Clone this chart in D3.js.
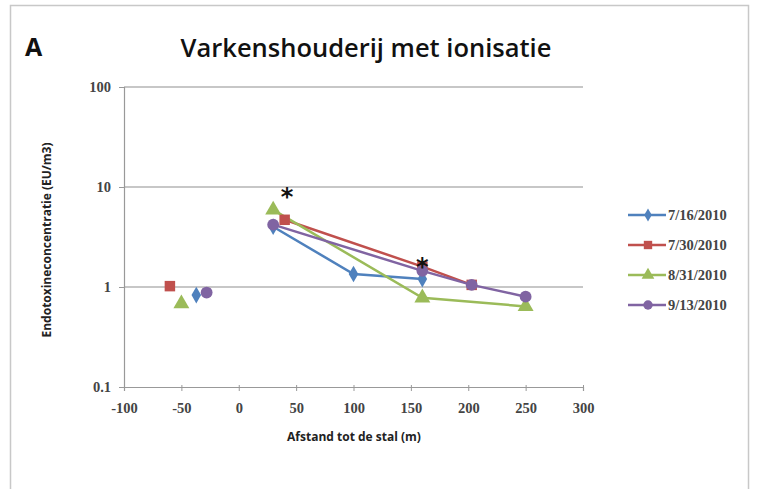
<!DOCTYPE html>
<html>
<head>
  <script src="https://d3js.org/d3.v7.min.js"></script>
  <meta charset='utf-8'>
  <title>Varkenshouderij met ionisatie</title>
  <style>
    body { margin: 0; background: #fff; }
  </style>
</head>
<body>
  <div id="container"></div>
  <script>
  const
  width = 759,
  height = 489,
  margin = { top: 87, bottom: 102, left: 124, right: 176 };

  // data; null = gap in the line
  const dates = ["7/16/2010", "7/30/2010", "8/31/2010", "9/13/2010"];
  const colors = ["#4F81BD", "#C0504D", "#9BBB59", "#8064A2"];
  const symbols = [d3.symbolDiamond, d3.symbolSquare, d3.symbolTriangle, d3.symbolCircle];
  const blue = [[-37, 0.83], null, [30, 4.0], [100, 1.35], [160, 1.2]];
  const red = [[-60, 1.02], null, [40, 4.7], [160, 1.6], [203, 1.05]];
  const green = [[-50, 0.68], null, [30, 5.9], [160, 0.78], [250, 0.64]];
  const purple = [[-28, 0.88], null, [30, 4.2], [160, 1.45], [203, 1.05], [250, 0.8]];
  const series = [blue, red, green, purple];
  const xTicks = [-100, -50, 0, 50, 100, 150, 200, 250, 300];
  const yTicks = [0.1, 1, 10, 100];
  const stars = [[42, 8.7], [160, 1.72]];

  var svg = d3.select("#container").append("svg")
    .attr("width", width)
    .attr("height", height)
    .style("display", "block")

  svg.append("rect")
    .attr("x", 10.5).attr("y", 5.5)
    .attr("width", 738).attr("height", 490)
    .attr("fill", "#fff")
    .attr("stroke", "#c8c8c8")
    .attr("stroke-width", 1.5)

  var x = d3.scaleLinear().domain([-100, 300]).range([margin.left, width - margin.right])
  var y = d3.scaleLog().domain([0.1, 100]).range([height - margin.bottom, margin.top])

  // gridlines
  svg.selectAll(".grid")
    .data(yTicks.slice(1))
    .enter()
    .append("line")
    .attr("x1", x(-100)).attr("x2", x(300))
    .attr("y1", d => y(d)).attr("y2", d => y(d))
    .attr("stroke", "#b4b4b4")
    .attr("stroke-width", 1.5)

  var xAxis = svg.append("g")
    .attr("transform", `translate(0,${y(0.1)})`)
    .call(d3.axisBottom(x).tickValues(xTicks).tickFormat(d => String(d)).tickSize(4).tickPadding(12))
  xAxis.select(".domain").attr("stroke", "#999").attr("stroke-width", 1.2)
  xAxis.selectAll(".tick line").attr("stroke", "#999").attr("y1", -2)
  xAxis.selectAll("text")
    .attr("font-family", "Liberation Serif")
    .attr("font-weight", "bold")
    .attr("font-size", 14.5)
    .attr("fill", "#444")

  var yAxis = svg.append("g")
    .attr("transform", `translate(${x(-100)},0)`)
    .call(d3.axisLeft(y).tickValues(yTicks).tickFormat(d => String(d)).tickSize(5).tickPadding(8))
  yAxis.select(".domain").attr("stroke", "#999").attr("stroke-width", 1.2)
  yAxis.selectAll(".tick line").attr("stroke", "#999")
  yAxis.selectAll("text")
    .attr("font-family", "Liberation Serif")
    .attr("font-weight", "bold")
    .attr("font-size", 14.5)
    .attr("fill", "#444")

  var line = d3.line()
    .defined(d => d !== null)
    .x(d => x(d[0]))
    .y(d => y(d[1]))

  series.forEach(function(s, i) {
    svg.append("path")
      .datum(s)
      .attr("d", line)
      .attr("fill", "none")
      .attr("stroke", colors[i])
      .attr("stroke-width", 2.5)
  })

  series.forEach(function(s, i) {
    svg.selectAll(".pt" + i)
      .data(s.filter(d => d !== null))
      .enter()
      .append("path")
      .attr("d", d3.symbol().type(symbols[i]).size(i == 0 ? 80 : 110))
      .attr("transform", d => `translate(${x(d[0])},${y(d[1])})`)
      .attr("fill", colors[i])
  })

  svg.selectAll(".star")
    .data(stars)
    .enter()
    .append("text")
    .attr("x", d => x(d[0]))
    .attr("y", d => y(d[1]) + 12)
    .attr("text-anchor", "middle")
    .attr("font-family", "DejaVu Sans")
    .attr("font-weight", "bold")
    .attr("font-size", 24)
    .attr("fill", "#111")
    .text("*")

  // legend
  var legend = svg.selectAll(".legend")
    .data(dates)
    .enter()
    .append("g")
    .attr("transform", (d, i) => `translate(628,${215 + i * 30})`)
  legend.append("line")
    .attr("x1", 0).attr("x2", 38)
    .attr("stroke", (d, i) => colors[i])
    .attr("stroke-width", 2.5)
  legend.append("path")
    .attr("d", (d, i) => d3.symbol().type(symbols[i]).size(i == 0 ? 50 : 70)())
    .attr("transform", "translate(20,0)")
    .attr("fill", (d, i) => colors[i])
  legend.append("text")
    .attr("x", 40)
    .attr("y", 5)
    .attr("font-family", "Liberation Serif")
    .attr("font-weight", "bold")
    .attr("font-size", 14.5)
    .attr("fill", "#444")
    .text(d => d)

  svg.append("text")
    .attr("x", 366).attr("y", 57)
    .attr("text-anchor", "middle")
    .attr("font-family", "Open Sans")
    .attr("font-weight", 600)
    .attr("font-size", 25.5)
    .attr("fill", "#111")
    .text("Varkenshouderij met ionisatie")

  svg.append("text")
    .attr("x", 25).attr("y", 56)
    .attr("font-family", "Open Sans")
    .attr("font-weight", "bold")
    .attr("font-size", 25)
    .attr("fill", "#111")
    .text("A")

  svg.append("text")
    .attr("x", 354).attr("y", 441)
    .attr("text-anchor", "middle")
    .attr("font-family", "Open Sans")
    .attr("font-weight", "bold")
    .attr("font-size", 12)
    .attr("fill", "#222")
    .text("Afstand tot de stal (m)")

  svg.append("text")
    .attr("transform", "translate(51,240) rotate(-90)")
    .attr("text-anchor", "middle")
    .attr("font-family", "Open Sans")
    .attr("font-weight", "bold")
    .attr("font-size", 12)
    .attr("fill", "#222")
    .text("Endotoxineconcentratie (EU/m3)")
  </script>
</body>
</html>
